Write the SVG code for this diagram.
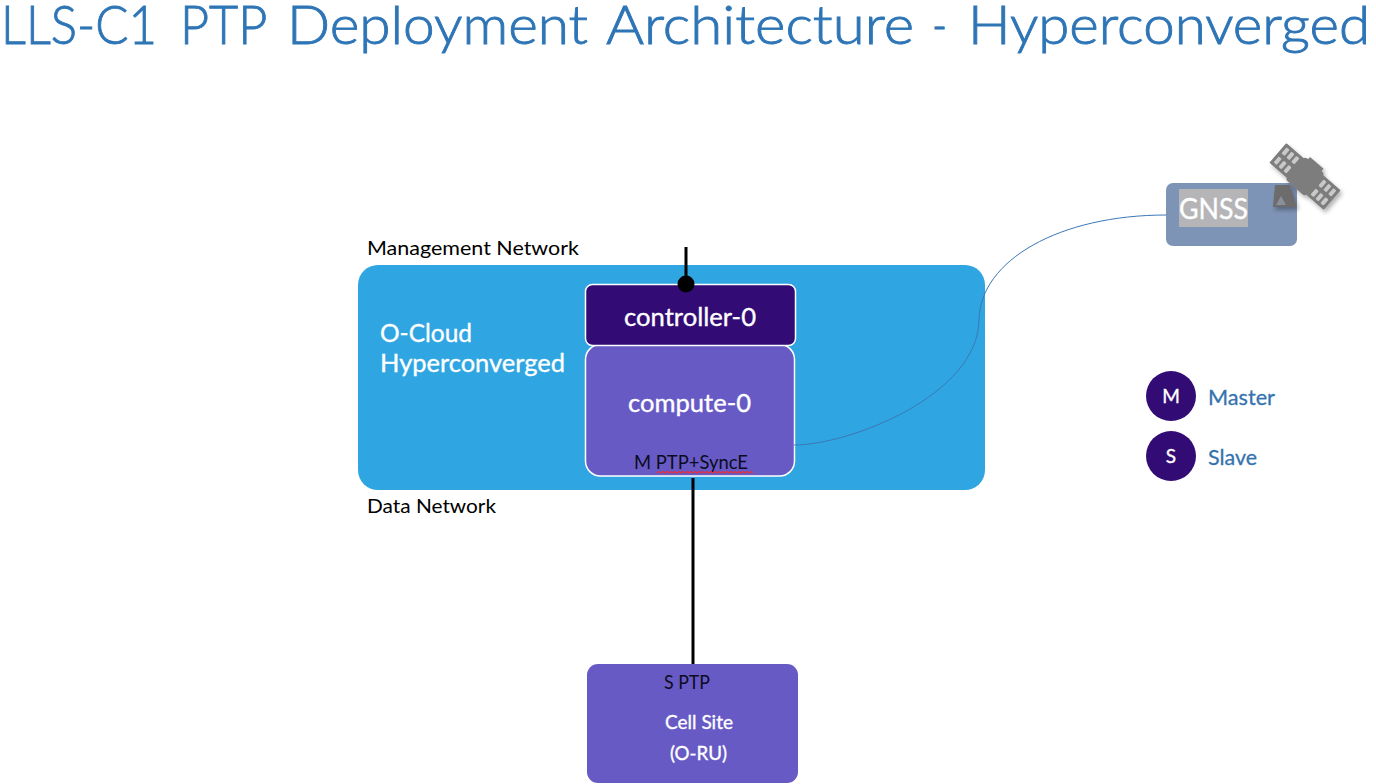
<svg xmlns="http://www.w3.org/2000/svg" width="1376" height="784" viewBox="0 0 1376 784">
<defs>
<style>
text{font-family:Lato,"Open Sans","Liberation Sans",sans-serif}
.w{fill:#fff;stroke:#fff;stroke-width:.35}
.k{fill:#0b0b20}
.b{fill:#3573ae;stroke:#3573ae;stroke-width:.3}
.line{fill:none;stroke:#000;stroke-width:3}
.thin{fill:none;stroke:#3b78b5;stroke-width:1}
.cells rect{fill:#c9c9c9;width:4px;height:8px;rx:1px}
</style>
<filter id="sh" x="-20%" y="-20%" width="150%" height="150%"><feDropShadow dx="2" dy="3" stdDeviation="2" flood-color="#000" flood-opacity=".3"/></filter>
</defs>
<rect width="1376" height="784" fill="#fff"/>
<text id="title" y="44" font-size="54" font-weight="300" fill="#2e75b6" stroke="#2e75b6" stroke-width=".9"><tspan x="1" textLength="156" lengthAdjust="spacingAndGlyphs">LLS-C1</tspan> <tspan x="180" textLength="86" lengthAdjust="spacingAndGlyphs">PTP</tspan> <tspan x="287" textLength="301" lengthAdjust="spacingAndGlyphs">Deployment</tspan> <tspan x="606" textLength="308" lengthAdjust="spacingAndGlyphs">Architecture</tspan> <tspan x="932" textLength="15" lengthAdjust="spacingAndGlyphs">-</tspan> <tspan x="968" textLength="402" lengthAdjust="spacingAndGlyphs">Hyperconverged</tspan></text>
<g id="o-cloud">
<rect x="358" y="265" width="627" height="225" rx="20" fill="#2fa6e2"/>
<text class="w" x="380" y="342" font-size="25" textLength="92" lengthAdjust="spacingAndGlyphs">O-Cloud</text>
<text class="w" x="380" y="372" font-size="25" textLength="185" lengthAdjust="spacingAndGlyphs">Hyperconverged</text>
</g>
<g id="compute-0">
<rect x="585.500" y="344.500" width="209" height="131.500" rx="15" fill="#675ac5" stroke="#fff" stroke-width="1.500"/>
<text class="w" x="628" y="412" font-size="25" textLength="123" lengthAdjust="spacingAndGlyphs">compute-0</text>
<text class="k" x="634" y="469" font-size="18.500" textLength="114" lengthAdjust="spacingAndGlyphs">M PTP+SyncE</text>
<path d="M657 473l2-1.500 2 1.500 2-1.500 2 1.500 2-1.500 2 1.500 2-1.500 2 1.500 2-1.500 2 1.500 2-1.500 2 1.500 2-1.500 2 1.500 2-1.500 2 1.500 2-1.500 2 1.500 2-1.500 2 1.500 2-1.500 2 1.500 2-1.500 2 1.500 2-1.500 2 1.500 2-1.500 2 1.500 2-1.500 2 1.500 2-1.500 2 1.500 2-1.500 2 1.500 2-1.500 2 1.500 2-1.500 2 1.500 2-1.500 2 1.500 2-1.500 2 1.500 2-1.500 2 1.500 2-1.500 2 1.500 2-1.500 2 1.500" fill="none" stroke="#e8303a" stroke-width="1.100"/>
</g>
<g id="controller-0">
<rect x="585.500" y="284.500" width="210" height="61" rx="7" fill="#320b75" stroke="#fff" stroke-width="1.500"/>
<text class="w" x="624" y="326" font-size="25" textLength="132" lengthAdjust="spacingAndGlyphs">controller-0</text>
</g>
<g id="connectors">
<path class="line" d="M686 247V284"/>
<circle cx="686" cy="284" r="8.500" fill="#000"/>
<path class="line" d="M693 478V665"/>
<path class="thin" d="M794 445C850 445 978 395 979 320C980 260 1060 215 1166 215"/>
</g>
<text x="367" y="255" font-size="20" fill="#000" textLength="212" lengthAdjust="spacingAndGlyphs">Management Network</text>
<text x="367" y="513" font-size="20" fill="#000" textLength="129" lengthAdjust="spacingAndGlyphs">Data Network</text>
<g id="gnss">
<rect x="1166" y="183" width="131" height="63" rx="7" fill="#7e94b6"/>
<rect x="1179" y="189" width="69" height="38" fill="#b5b5b8"/>
<text class="w" x="1179" y="219" font-size="29" textLength="69" lengthAdjust="spacingAndGlyphs">GNSS</text>
</g>
<g id="satellite" filter="url(#sh)" fill="#7d7d7d">
<path d="M1275 185h15l7 22h-24z" fill="#6c6c6c"/>
<path d="M1281 196l5 9h-10z" fill="#8a8f9c"/>
<g transform="translate(1305 176.500) rotate(41)">
<rect x="-13" y="-15" width="26" height="30" rx="3"/>
<rect x="-9" y="-18" width="18" height="5"/>
<rect x="-36" y="-13" width="24" height="26" rx="1"/>
<rect x="12" y="-13" width="24" height="26" rx="1"/>
<g class="cells">
<rect x="-33" y="-10"/><rect x="-26.500" y="-10"/><rect x="-20" y="-10"/><rect x="-33" y="2"/><rect x="-26.500" y="2"/><rect x="-20" y="2"/>
<rect x="16" y="-10"/><rect x="22.500" y="-10"/><rect x="29" y="-10"/><rect x="16" y="2"/><rect x="22.500" y="2"/><rect x="29" y="2"/>
</g>
</g>
</g>
<g id="legend-master">
<circle cx="1171" cy="396" r="25" fill="#320b75"/>
<text class="w" x="1171" y="403" font-size="19" text-anchor="middle">M</text>
<text class="b" x="1208" y="405" font-size="22" textLength="67" lengthAdjust="spacingAndGlyphs">Master</text>
</g>
<g id="legend-slave">
<circle cx="1171" cy="456" r="25" fill="#320b75"/>
<text class="w" x="1171" y="463" font-size="19" text-anchor="middle">S</text>
<text class="b" x="1208" y="465" font-size="22" textLength="49" lengthAdjust="spacingAndGlyphs">Slave</text>
</g>
<g id="cell-site">
<rect x="587" y="664" width="211" height="119" rx="11" fill="#675ac5"/>
<text class="k" x="664" y="689" font-size="18.500" textLength="46" lengthAdjust="spacingAndGlyphs">S PTP</text>
<text class="w" x="665" y="729" font-size="20" textLength="68" lengthAdjust="spacingAndGlyphs">Cell Site</text>
<text class="w" x="670" y="760" font-size="20" textLength="57" lengthAdjust="spacingAndGlyphs">(O-RU)</text>
</g>
</svg>
